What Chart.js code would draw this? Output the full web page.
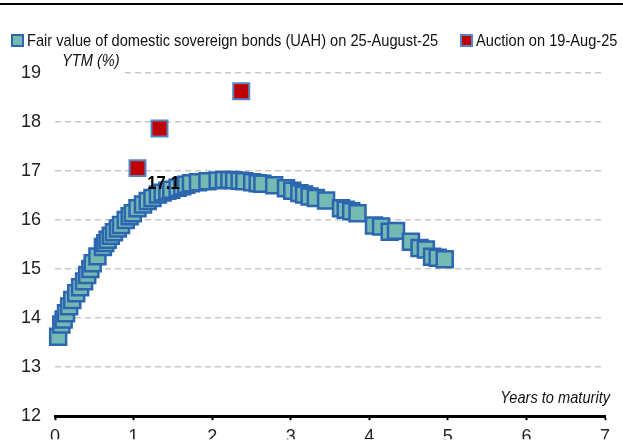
<!DOCTYPE html>
<html>
<head>
<meta charset="utf-8">
<script src="https://cdn.jsdelivr.net/npm/chart.js@4.4.0/dist/chart.umd.min.js"></script>
<style>
  html, body { margin: 0; padding: 0; background: #fff; overflow: hidden; }
</style>
</head>
<body>
<canvas id="chart" width="623" height="441"></canvas>
<script>
// ---- data ----
const fairYears = [0.04, 0.08, 0.11, 0.14, 0.18, 0.22, 0.27, 0.32, 0.37, 0.41,
  0.45, 0.48, 0.54, 0.61, 0.64, 0.67, 0.71, 0.75, 0.80, 0.84,
  0.90, 0.95, 0.99, 1.05, 1.12, 1.18, 1.24, 1.31, 1.37, 1.43,
  1.48, 1.56, 1.62, 1.67, 1.73, 1.82, 1.94, 2.07, 2.15, 2.22,
  2.28, 2.35, 2.41, 2.51, 2.58, 2.64, 2.79, 2.94, 3.02, 3.11,
  3.17, 3.24, 3.32, 3.45, 3.64, 3.70, 3.77, 3.85, 4.06, 4.15,
  4.26, 4.34, 4.53, 4.64, 4.72, 4.80, 4.87, 4.96];
const fairYtm = [13.62, 13.87, 13.97, 14.10, 14.24, 14.37, 14.51, 14.63, 14.75, 14.88,
  15.00, 15.12, 15.26, 15.45, 15.53, 15.60, 15.68, 15.75, 15.83, 15.90,
  16.00, 16.08, 16.14, 16.24, 16.32, 16.39, 16.45, 16.52, 16.56, 16.60,
  16.62, 16.66, 16.69, 16.72, 16.75, 16.77, 16.79, 16.81, 16.82, 16.82,
  16.81, 16.80, 16.79, 16.77, 16.75, 16.74, 16.71, 16.65, 16.60, 16.55,
  16.52, 16.48, 16.45, 16.40, 16.24, 16.21, 16.18, 16.14, 15.89, 15.87,
  15.76, 15.78, 15.56, 15.43, 15.40, 15.25, 15.23, 15.20];
const auctionYears = [1.05, 1.33, 2.37];
const auctionYtm = [17.06, 17.87, 18.63];
const seriesNames = ['Fair value of domestic sovereign bonds (UAH) on 25-August-25', 'Auction on 19-Aug-25'];
const yAxisTitle = 'YTM (%)';
const xAxisTitle = 'Years to maturity';

const FONT = "'Liberation Sans Narrow', 'Arial Narrow', 'Liberation Sans', Arial, sans-serif";
const NARROW = 0.86;   // horizontal squeeze to mimic the condensed face
Chart.defaults.font.family = FONT;

const toPoints = (xs, ys) => xs.map((x, i) => ({ x: x, y: ys[i] }));

// text squeezed horizontally
function squeezeText(ctx, text, x, y, sx) {
  ctx.save();
  ctx.translate(x, y);
  ctx.scale(sx, 1);
  ctx.fillText(text, 0, 0);
  ctx.restore();
}

// frame, legend, axis titles and the auction label
const extras = {
  id: 'extras',
  afterDraw(chart) {
    const ctx = chart.ctx;
    const area = chart.chartArea;
    const xs = chart.scales.x, ys = chart.scales.y;
    ctx.save();

    // top rule
    ctx.fillStyle = '#000';
    ctx.fillRect(0, 3, chart.width, 2);

    // legend
    ctx.font = '17px ' + FONT;
    ctx.textBaseline = 'middle';
    ctx.textAlign = 'left';
    const legendX = [12, 461];
    chart.data.datasets.forEach((ds, i) => {
      const bx = legendX[i], by = 35;
      ctx.fillStyle = ds.backgroundColor;
      ctx.fillRect(bx, by, 11, 11);
      ctx.strokeStyle = ds.borderColor;
      ctx.lineWidth = 2;
      ctx.strokeRect(bx, by, 11, 11);
      ctx.fillStyle = '#111';
      squeezeText(ctx, ds.label, bx + 15, by + 6, NARROW);
    });

    // y title on white box
    ctx.fillStyle = '#fff';
    ctx.fillRect(area.left, area.top - 20, 68, 26);
    ctx.fillStyle = '#111';
    ctx.font = 'italic 17px ' + FONT;
    ctx.textBaseline = 'alphabetic';
    squeezeText(ctx, yAxisTitle, area.left + 7, area.top - 7, NARROW);

    // x title
    ctx.textAlign = 'right';
    squeezeText(ctx, xAxisTitle, area.right + 5, area.bottom - 13, NARROW);

    // value label for the first auction
    const px = xs.getPixelForValue(auctionYears[0]);
    const py = ys.getPixelForValue(auctionYtm[0]);
    ctx.font = 'bold 19px ' + FONT;
    ctx.textAlign = 'center';
    ctx.textBaseline = 'middle';
    ctx.fillStyle = '#000';
    squeezeText(ctx, auctionYtm[0].toFixed(1), px + 26, py + 16, 0.88);

    ctx.restore();
  }
};

new Chart(document.getElementById('chart'), {
  type: 'scatter',
  data: {
    datasets: [
      {
        label: seriesNames[0],
        data: toPoints(fairYears, fairYtm),
        pointStyle: 'rect',
        pointRadius: 11.3,
        pointHoverRadius: 11.3,
        backgroundColor: '#74b9b2',
        borderColor: '#2d66b0',
        borderWidth: 2.5,
        clip: false,
        order: 2
      },
      {
        label: seriesNames[1],
        data: toPoints(auctionYears, auctionYtm),
        pointStyle: 'rect',
        pointRadius: 11.3,
        pointHoverRadius: 11.3,
        backgroundColor: '#c00000',
        borderColor: '#5585c5',
        borderWidth: 2,
        clip: false,
        order: 1
      }
    ]
  },
  options: {
    responsive: false,
    animation: false,
    layout: { padding: { top: 73, right: 18, left: 0, bottom: 0 } },
    plugins: {
      legend: { display: false },
      tooltip: { enabled: false }
    },
    scales: {
      x: {
        type: 'linear',
        min: 0, max: 7,
        ticks: { stepSize: 1, color: '#222', font: { size: 18 }, padding: 6 },
        grid: { drawOnChartArea: false, drawTicks: true, tickLength: 4, tickWidth: 2, tickColor: '#000' },
        border: { color: '#000', width: 3 },
        afterFit: s => { s.height = 23; }
      },
      y: {
        min: 12, max: 19,
        ticks: { stepSize: 1, color: '#222', font: { size: 18 }, padding: 14 },
        grid: {
          color: c => (c.tick && c.tick.value === 12) ? 'rgba(0,0,0,0)' : '#c8c8c8',
          lineWidth: 1.5,
          drawTicks: false
        },
        border: { display: false, dash: [6, 4] },
        afterFit: s => { s.width = 55; }
      }
    }
  },
  plugins: [extras]
});
</script>
</body>
</html>
